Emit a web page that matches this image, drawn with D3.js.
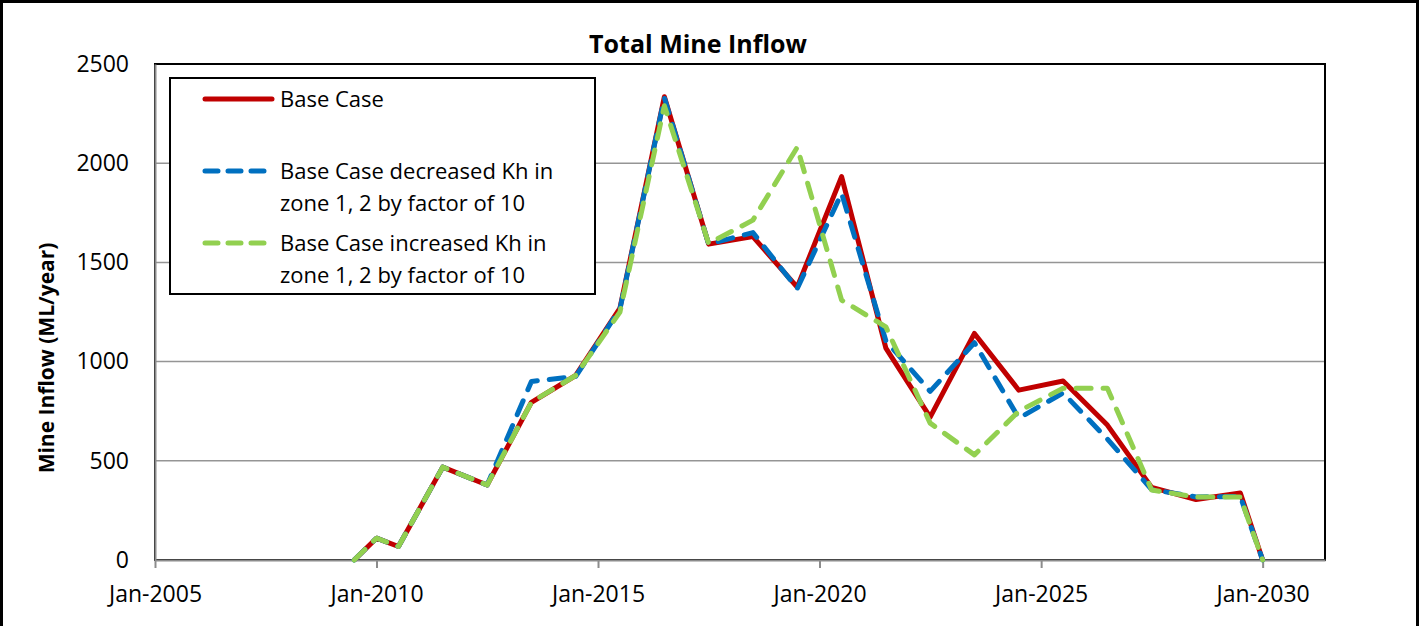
<!DOCTYPE html>
<html>
<head>
<meta charset="utf-8">
<script src="https://cdn.jsdelivr.net/npm/d3@7"></script>
<style>
  body { margin: 0; background: #fff; }
  svg { display: block; font-family: "Open Sans", "Noto Sans", sans-serif; }
</style>
</head>
<body>
<div id="chart"></div>
<script>
// sample dates (mid-year, plus the Jan-2010 and Jan-2030 points)
var dates = ["2009-07-01", "2010-01-01", "2010-07-01", "2011-07-01", "2012-07-01", "2013-07-01",
  "2014-07-01", "2015-07-01", "2016-07-01", "2017-07-01", "2018-07-01", "2019-07-01",
  "2020-07-01", "2021-07-01", "2022-07-01", "2023-07-01", "2024-07-01", "2025-07-01",
  "2026-07-01", "2027-07-01", "2028-07-01", "2029-07-01", "2030-01-01"];

// mine inflow, ML/year
var baseCase = [0, 110, 68, 468, 378, 795, 930, 1270, 2335, 1592, 1630, 1375,
  1932, 1068, 720, 1142, 856, 902, 680, 366, 305, 338, 0];
var decreasedKh = [0, 110, 68, 468, 378, 900, 925, 1265, 2330, 1592, 1650, 1368,
  1848, 1105, 850, 1095, 715, 842, 610, 355, 318, 320, 0];
var increasedKh = [0, 110, 68, 468, 378, 795, 930, 1250, 2290, 1595, 1713, 2080,
  1310, 1175, 690, 530, 750, 866, 866, 353, 317, 317, 0];

var seriesNames = ["Base Case",
  "Base Case decreased Kh in|zone 1, 2 by factor of 10",
  "Base Case increased Kh in|zone 1, 2 by factor of 10"];
var seriesColors = ["#C00000", "#0070C0", "#92D050"];

var yTicks = [0, 500, 1000, 1500, 2000, 2500];
var xTickYears = [2005, 2010, 2015, 2020, 2025, 2030];

var W = 1421, H = 626;
var margin = { left: 155, top: 64, right: 1325, bottom: 560 };

var svg = d3.select("#chart").append("svg")
  .attr("width", W)
  .attr("height", H);

// outer frame (bottom edge is cut off)
svg.append("rect")
  .attr("x", 1.5).attr("y", 1.5)
  .attr("width", 1416).attr("height", 700)
  .attr("fill", "none")
  .attr("stroke", "#000")
  .attr("stroke-width", 3);

var x = d3.scaleUtc()
  .domain([new Date(Date.UTC(2005, 0, 1)), new Date(Date.UTC(2031, 4, 30))])
  .range([margin.left, margin.right]);

var y = d3.scaleLinear()
  .domain([0, 2500])
  .range([margin.bottom, margin.top]);

var parse = d3.utcParse("%Y-%m-%d");
var fmt = d3.utcFormat("%b-%Y");

// gridlines
svg.append("g")
  .selectAll("line")
  .data(yTicks.slice(1, -1))
  .enter()
  .append("line")
  .attr("x1", margin.left).attr("x2", margin.right)
  .attr("y1", function (d) { return y(d); })
  .attr("y2", function (d) { return y(d); })
  .attr("stroke", "#959595")
  .attr("stroke-width", 1.5);

// plot area border
svg.append("rect")
  .attr("x", margin.left).attr("y", margin.top)
  .attr("width", margin.right - margin.left)
  .attr("height", margin.bottom - margin.top)
  .attr("fill", "none")
  .attr("stroke", "#000")
  .attr("stroke-width", 2);

// y axis
var yAxis = d3.axisLeft(y).tickValues(yTicks).tickFormat(d3.format("d")).tickSize(0).tickPadding(26);
var gy = svg.append("g")
  .attr("transform", "translate(" + margin.left + ",0)")
  .call(yAxis);
gy.select(".domain").attr("stroke", "#8c8c8c").attr("stroke-width", 2);
gy.selectAll("text")
  .style("font-size", "23px")
  .style("font-family", "Open Sans")
  .attr("fill", "#000");

// x axis
var xAxis = d3.axisBottom(x)
  .tickValues(xTickYears.map(function (yr) { return new Date(Date.UTC(yr, 0, 1)); }))
  .tickFormat(fmt)
  .tickSizeInner(8)
  .tickSizeOuter(0)
  .tickPadding(18);
var gx = svg.append("g")
  .attr("transform", "translate(0," + margin.bottom + ")")
  .call(xAxis);
gx.select(".domain").attr("stroke", "#8c8c8c").attr("stroke-width", 2);
gx.selectAll(".tick line").attr("stroke", "#8c8c8c").attr("stroke-width", 2);
gx.selectAll("text")
  .style("font-size", "23px")
  .style("font-family", "Open Sans")
  .attr("fill", "#000");

// series lines
var line = d3.line()
  .x(function (d) { return x(d.date); })
  .y(function (d) { return y(d.value); });

var allSeries = [baseCase, decreasedKh, increasedKh];
var dashes = [null, "15,12", "15,12"];

allSeries.forEach(function (vals, i) {
  var pts = vals.map(function (v, j) { return { date: parse(dates[j]), value: v }; });
  svg.append("path")
    .datum(pts)
    .attr("d", line)
    .attr("fill", "none")
    .attr("stroke", seriesColors[i])
    .attr("stroke-width", 5)
    .attr("stroke-linejoin", "round")
    .attr("stroke-linecap", i == 0 ? "butt" : "round")
    .attr("stroke-dasharray", dashes[i]);
});

// title
svg.append("text")
  .attr("x", 698).attr("y", 53)
  .attr("text-anchor", "middle")
  .style("font-size", "25px")
  .style("font-weight", "bold")
  .text("Total Mine Inflow");

// y label
svg.append("text")
  .attr("transform", "translate(54,358) rotate(-90)")
  .attr("text-anchor", "middle")
  .style("font-size", "21px")
  .style("font-weight", "bold")
  .text("Mine Inflow (ML/year)");

// legend
var legend = svg.append("g");
legend.append("rect")
  .attr("x", 170).attr("y", 78)
  .attr("width", 425).attr("height", 216)
  .attr("fill", "#fff")
  .attr("stroke", "#000")
  .attr("stroke-width", 2);

var legendY = [99, 171, 243];
seriesNames.forEach(function (name, i) {
  legend.append("line")
    .attr("x1", 205).attr("x2", i == 0 ? 272 : 264)
    .attr("y1", legendY[i]).attr("y2", legendY[i])
    .attr("stroke", seriesColors[i])
    .attr("stroke-width", 5)
    .attr("stroke-linecap", "round")
    .attr("stroke-dasharray", i == 0 ? null : "13,10");
  var t = legend.append("text")
    .attr("x", 280).attr("y", legendY[i] + 8)
    .style("font-size", "22px");
  name.split("|").forEach(function (part, k) {
    t.append("tspan")
      .attr("x", 280)
      .attr("dy", k == 0 ? 0 : 32)
      .text(part);
  });
});
</script>
</body>
</html>
